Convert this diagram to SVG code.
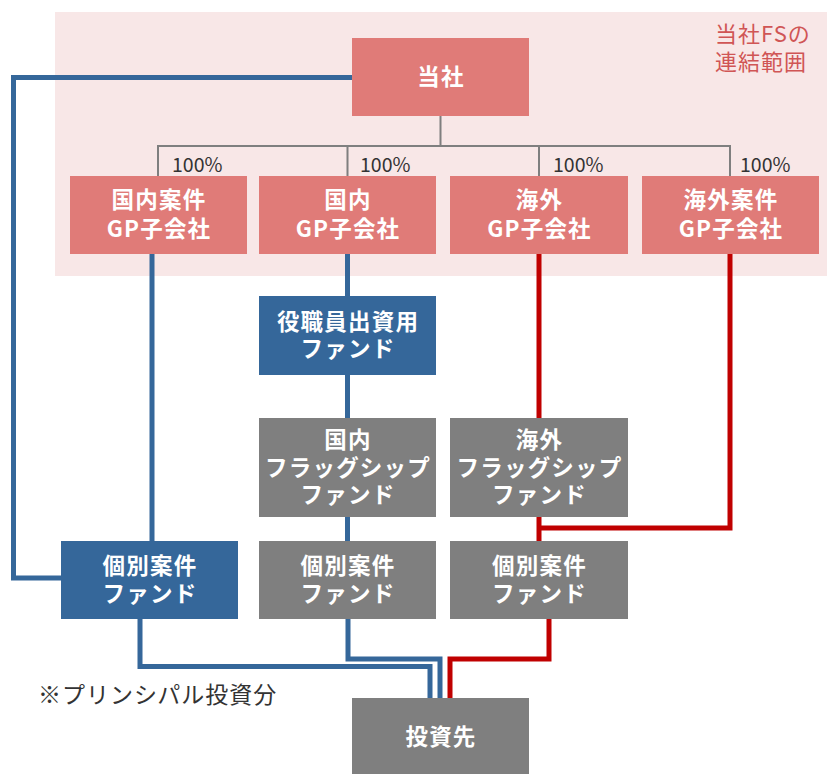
<svg xmlns="http://www.w3.org/2000/svg" width="827" height="774" viewBox="0 0 827 774">
<style>
.pk{fill:#e07b78}
.bl{fill:#35679a}
.gr{fill:#7f7f7f}
.t{font-family:"Noto Sans CJK JP","Noto Sans",sans-serif;font-size:22.5px;letter-spacing:1.2px;font-weight:bold;fill:#ffffff;text-anchor:middle}
.pct{font-family:"Noto Sans CJK JP","Noto Sans",sans-serif;font-size:19.5px;fill:#333333}
.note{font-family:"Noto Sans CJK JP","Noto Sans",sans-serif;font-size:23px;letter-spacing:1px;fill:#333333}
.scope{font-family:"Noto Sans CJK JP","Noto Sans",sans-serif;font-size:22px;letter-spacing:1px;fill:#d05555}
.own{fill:none;stroke:#7f7f7f;stroke-width:2}
.lb{fill:none;stroke:#35679a;stroke-width:5}
.lr{fill:none;stroke:#c00000;stroke-width:5}
</style>
<rect id="scope" x="55" y="12" width="772" height="264" fill="#f8e7e7"/>
<g id="scope-label">
<text class="scope" x="715" y="42">当社FSの</text>
<text class="scope" x="715" y="70">連結範囲</text>
</g>
<g id="connectors">
<path class="own" d="M440.5,116 V146 M158,176 V146 H730 V176 M347.5,146 V176 M539,146 V176"/>
<path class="lb" d="M352,77.5 H13.5 V578 H61"/>
<path class="lb" d="M152,254 V541"/>
<path class="lb" d="M347.5,254 V296 M347.5,375 V418 M347.5,517 V541"/>
<path class="lb" d="M140,619 V666.5 H430 V698"/>
<path class="lb" d="M348,619 V659 H440 V698"/>
<path class="lr" d="M539,254 V418 M539,517 V541"/>
<path class="lr" d="M730,254 V528 H539"/>
<path class="lr" d="M549,619 V659 H450 V698"/>
</g>
<g id="labels-pct">
<text class="pct" x="172" y="172">100%</text>
<text class="pct" x="360" y="172">100%</text>
<text class="pct" x="553" y="172">100%</text>
<text class="pct" x="740" y="172">100%</text>
</g>
<g id="n-tousha">
<rect class="pk" x="352" y="38" width="177" height="78"/>
<text class="t" x="441" y="85">当社</text>
</g>
<g id="n-gp1">
<rect class="pk" x="70" y="176" width="177" height="78"/>
<text class="t" x="159" y="208">国内案件</text>
<text class="t" x="159" y="237">GP子会社</text>
</g>
<g id="n-gp2">
<rect class="pk" x="259" y="176" width="177" height="78"/>
<text class="t" x="348" y="208">国内</text>
<text class="t" x="348" y="237">GP子会社</text>
</g>
<g id="n-gp3">
<rect class="pk" x="450" y="176" width="178" height="78"/>
<text class="t" x="539.5" y="208">海外</text>
<text class="t" x="539.5" y="237">GP子会社</text>
</g>
<g id="n-gp4">
<rect class="pk" x="642" y="176" width="177" height="78"/>
<text class="t" x="731" y="208">海外案件</text>
<text class="t" x="731" y="237">GP子会社</text>
</g>
<g id="n-employee">
<rect class="bl" x="259" y="296" width="177" height="79"/>
<text class="t" x="348" y="330">役職員出資用</text>
<text class="t" x="348" y="357">ファンド</text>
</g>
<g id="n-flag-dom">
<rect class="gr" x="259" y="418" width="177" height="99"/>
<text class="t" x="348" y="448">国内</text>
<text class="t" x="348" y="476">フラッグシップ</text>
<text class="t" x="348" y="503">ファンド</text>
</g>
<g id="n-flag-ovs">
<rect class="gr" x="450" y="418" width="178" height="99"/>
<text class="t" x="539.5" y="448">海外</text>
<text class="t" x="539.5" y="476">フラッグシップ</text>
<text class="t" x="539.5" y="503">ファンド</text>
</g>
<g id="n-ind1">
<rect class="bl" x="61" y="541" width="177" height="78"/>
<text class="t" x="150" y="574">個別案件</text>
<text class="t" x="150" y="602">ファンド</text>
</g>
<g id="n-ind2">
<rect class="gr" x="259" y="541" width="177" height="78"/>
<text class="t" x="348" y="574">個別案件</text>
<text class="t" x="348" y="602">ファンド</text>
</g>
<g id="n-ind3">
<rect class="gr" x="450" y="541" width="178" height="78"/>
<text class="t" x="539.5" y="574">個別案件</text>
<text class="t" x="539.5" y="602">ファンド</text>
</g>
<g id="n-invest">
<rect class="gr" x="352" y="698" width="177" height="76"/>
<text class="t" x="441" y="745">投資先</text>
</g>
<text class="note" x="38" y="703">※プリンシパル投資分</text>
</svg>
